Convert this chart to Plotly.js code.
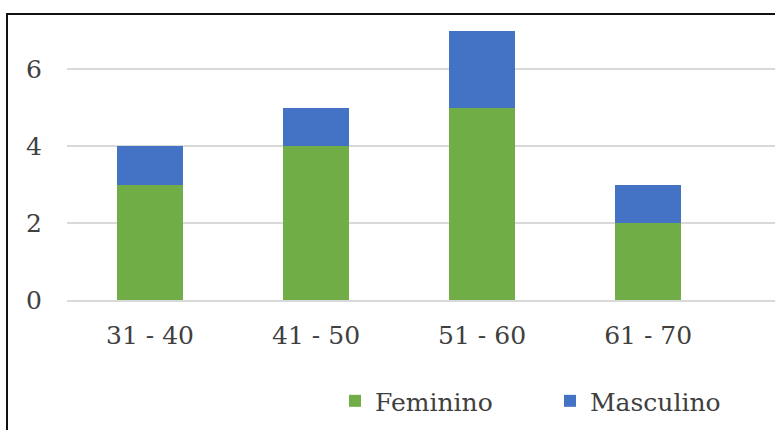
<!DOCTYPE html>
<html>
<head>
<meta charset="utf-8">
<script src="https://cdn.plot.ly/plotly-3.0.1.min.js"></script>
<style>
  html, body { margin: 0; padding: 0; width: 775px; height: 430px; overflow: hidden; background: #fff; }
  #frame { position: absolute; left: 6px; top: 13px; width: 900px; height: 600px; border: 2px solid #111; box-sizing: border-box; pointer-events: none; z-index: 5; }
  #chart { position: absolute; left: 0; top: 0; width: 775px; height: 430px; }
</style>
</head>
<body>
<div id="chart"></div>
<div id="frame"></div>
<script>
const categories = ["31 - 40", "41 - 50", "51 - 60", "61 - 70"];
const feminino = [3, 4, 5, 2];
const masculino = [1, 1, 2, 1];
const yTicks = [0, 2, 4, 6];

const fontFamily = 'DejaVu Serif';

const traces = [
  { type: 'bar', name: 'Feminino', x: categories, y: feminino, marker: { color: '#70AD47' }, hoverinfo: 'x+y+name' },
  { type: 'bar', name: 'Masculino', x: categories, y: masculino, marker: { color: '#4472C4' }, hoverinfo: 'x+y+name' }
];

const layout = {
  width: 775, height: 430,
  margin: { l: 67, r: 0, t: 14, b: 130 },
  paper_bgcolor: '#ffffff', plot_bgcolor: '#ffffff',
  barmode: 'stack',
  bargap: 0.6,
  font: { family: fontFamily, size: 25, color: '#404040' },
  xaxis: {
    type: 'category',
    range: [-0.5, 3.764],
    showgrid: false,
    showline: true, linecolor: '#d9d9d9', linewidth: 2,
    zeroline: false,
    ticks: '',
    ticklabelstandoff: 12,
    tickfont: { family: fontFamily, size: 25, color: '#404040' }
  },
  yaxis: {
    range: [0, 7.43],
    tickvals: yTicks,
    ticktext: yTicks.map(String),
    showgrid: true, gridcolor: '#d9d9d9', gridwidth: 2,
    zeroline: false,
    showline: false,
    ticks: '',
    ticklabelstandoff: 24,
    tickfont: { family: fontFamily, size: 25, color: '#404040' }
  },
  showlegend: true,
  legend: {
    orientation: 'h',
    x: 0.3785, xanchor: 'left',
    y: -0.273, yanchor: 'top',
    traceorder: 'normal',
    entrywidth: 170,
    font: { family: fontFamily, size: 25, color: '#404040' },
    bgcolor: 'rgba(0,0,0,0)'
  }
};

Plotly.newPlot('chart', traces, layout, { displayModeBar: false, staticPlot: true });
</script>
</body>
</html>
